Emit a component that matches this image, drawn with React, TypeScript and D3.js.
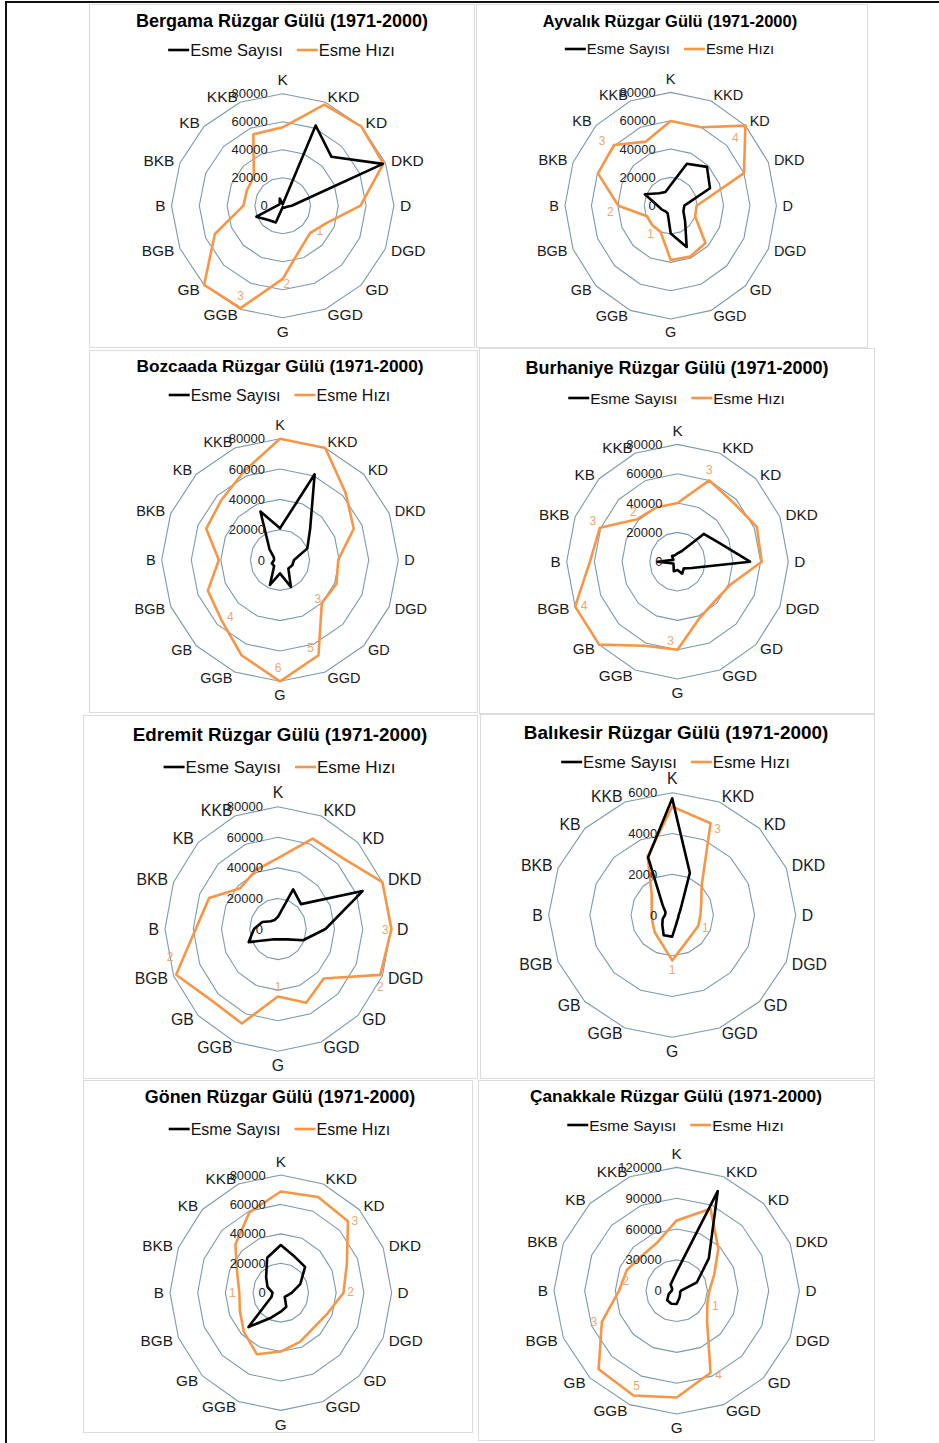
import React from "react";
import * as d3 from "d3";

// Wind directions, clockwise from north
const yonler = ["K", "KKD", "KD", "DKD", "D", "DGD", "GD", "GGD", "G", "GGB", "GB", "BGB", "B", "BKB", "KB", "KKB"];

// Radial tick values for the "Esme Sayısı" axis
const sayiTicks80 = [0, 20000, 40000, 60000, 80000];
const sayiTicks6 = [0, 2000, 4000, 6000];
const sayiTicks120 = [0, 30000, 60000, 90000, 120000];

const basliklar = [
  "Bergama Rüzgar Gülü (1971-2000)",
  "Ayvalık Rüzgar Gülü (1971-2000)",
  "Bozcaada Rüzgar Gülü (1971-2000)",
  "Burhaniye Rüzgar Gülü (1971-2000)",
  "Edremit Rüzgar Gülü (1971-2000)",
  "Balıkesir Rüzgar Gülü (1971-2000)",
  "Gönen Rüzgar Gülü (1971-2000)",
  "Çanakkale Rüzgar Gülü (1971-2000)",
];

const seriAdlari = ["Esme Sayısı", "Esme Hızı"];

// Esme sayısı (blow counts) and esme hızı (mean speed, m/s) per direction
const bergamaSayi = [1000, 62000, 49500, 78000, 6500, 2500, 2000, 1500, 1000, 13000, 14500, 20500, 4000, 2500, 3000, 5500];
const bergamaHiz = [2.1, 2.93, 3.0, 2.94, 2.1, 1.25, 1.04, 1.25, 1.96, 2.97, 3.0, 1.98, 1.06, 1.05, 1.1, 2.07];

const ayvalikSayi = [14600, 32000, 38800, 32200, 10300, 10400, 15400, 31600, 19600, 5900, 5600, 7200, 9800, 21200, 12400, 10400];
const ayvalikHiz = [2.99, 3.0, 4.0, 3.0, 0.98, 1.0, 1.86, 1.94, 1.92, 1.0, 0.98, 0.97, 1.98, 2.98, 3.03, 2.45];

const bozcaadaSayi = [20900, 61200, 28800, 20000, 9500, 9000, 8000, 19300, 8800, 17800, 5600, 6000, 4000, 4500, 10000, 34600];
const bozcaadaHiz = [6.0, 6.0, 4.7, 4.05, 2.95, 3.1, 3.0, 5.1, 6.0, 5.1, 4.2, 3.96, 3.1, 4.05, 4.2, 4.75];

const burhaniyeSayi = [5700, 7700, 26800, 32900, 52400, 11100, 6400, 8800, 5700, 7000, 4000, 3200, 14500, 3200, 5500, 4800];
const burhaniyeHiz = [2.0, 3.0, 2.85, 3.1, 3.04, 2.06, 1.9, 2.08, 3.0, 3.1, 4.0, 4.0, 3.16, 3.03, 2.05, 2.0];

const edremitSayi = [8000, 28000, 23000, 64800, 33600, 19200, 9600, 7300, 6800, 7300, 10200, 22500, 17000, 12000, 7200, 6400];
const edremitHiz = [1.45, 2.0, 2.04, 2.5, 2.51, 2.45, 1.43, 1.63, 1.38, 2.09, 2.07, 2.44, 1.82, 1.65, 1.18, 1.3];

const balikesirSayi = [5720, 2240, 635, 400, 315, 320, 355, 500, 1060, 1080, 680, 500, 350, 350, 640, 3060];
const balikesirHiz = [3.1, 2.84, 1.18, 0.89, 0.8, 0.8, 0.79, 0.91, 1.3, 0.84, 0.7, 0.6, 0.58, 0.63, 0.82, 1.82];

const gonenSayi = [32400, 26400, 24800, 15200, 8000, 5000, 4000, 10400, 12900, 18400, 33000, 7200, 6000, 10400, 15000, 25700];
const gonenHiz = [3.01, 3.08, 3.0, 2.26, 1.98, 1.6, 1.47, 1.58, 1.75, 1.98, 1.65, 1.4, 1.31, 1.49, 2.03, 2.59];

const canakkaleSayi = [18500, 104900, 44400, 21400, 4200, 3600, 4800, 7200, 13000, 13800, 13200, 8400, 4800, 4800, 8400, 10800];
const canakkaleHiz = [2.85, 3.6, 2.4, 1.65, 1.33, 1.35, 1.75, 3.6, 4.33, 4.6, 4.5, 3.3, 2.35, 2.2, 2.0, 2.1];

// Upper end of each station's speed axis
const hizMaks = [3, 4, 6, 4, 2.5, 3.5, 3.5, 5];

// Directions whose speed value carries a data label
const bergamaEtiket = [6, 8, 9];
const ayvalikEtiket = [2, 14, 12, 9];
const bozcaadaEtiket = [6, 7, 10, 8];
const burhaniyeEtiket = [1, 14, 13, 11, 8];
const edremitEtiket = [4, 5, 11, 8];
const balikesirEtiket = [1, 5, 8];
const gonenEtiket = [2, 4, 12];
const canakkaleEtiket = [5, 13, 11, 7, 9];

const istasyonlar = [
  { sayi: bergamaSayi, hiz: bergamaHiz, ticks: sayiTicks80, etiket: bergamaEtiket },
  { sayi: ayvalikSayi, hiz: ayvalikHiz, ticks: sayiTicks80, etiket: ayvalikEtiket },
  { sayi: bozcaadaSayi, hiz: bozcaadaHiz, ticks: sayiTicks80, etiket: bozcaadaEtiket },
  { sayi: burhaniyeSayi, hiz: burhaniyeHiz, ticks: sayiTicks80, etiket: burhaniyeEtiket },
  { sayi: edremitSayi, hiz: edremitHiz, ticks: sayiTicks80, etiket: edremitEtiket },
  { sayi: balikesirSayi, hiz: balikesirHiz, ticks: sayiTicks6, etiket: balikesirEtiket },
  { sayi: gonenSayi, hiz: gonenHiz, ticks: sayiTicks80, etiket: gonenEtiket },
  { sayi: canakkaleSayi, hiz: canakkaleHiz, ticks: sayiTicks120, etiket: canakkaleEtiket },
];

// Panel geometry and typography
const panels = [
  { box: [89, 4, 385, 343], cx: 282.7, cy: 205.7, rx: 111.2, ry: 112, tx: 282, ty: 21, tfs: 18, ly: 50, lfs: 16.5, cfs: 15.5,
    lab: [[10, -2], [4, 5], [0, -12]] },
  { box: [476, 4, 391, 343], cx: 670.7, cy: 205.7, rx: 105.7, ry: 113.3, tx: 670, ty: 21, tfs: 16.5, ly: 49, lfs: 14.8, cfs: 14.5,
    lab: [[-10, 12], [-12, -4], [-8, 6], [-10, 2]] },
  { box: [89, 350, 388, 362], cx: 280, cy: 560, rx: 118.3, ry: 121.3, tx: 280, ty: 366, tfs: 17.3, ly: 395, lfs: 16, cfs: 14.5,
    lab: [[-4, -4], [-8, -7], [9, -3], [-2, -13]] },
  { box: [479, 348, 395, 365], cx: 677.5, cy: 561.7, rx: 110.8, ry: 117.3, tx: 677, ty: 368, tfs: 18, ly: 398, lfs: 15.5, cfs: 15.3,
    lab: [[0, -10], [-4, -7], [-7, -7], [9, -1], [-7, -9]] },
  { box: [83, 715, 394, 363], cx: 278, cy: 929, rx: 113, ry: 122.3, tx: 280, ty: 734, tfs: 18.8, ly: 767, lfs: 17, cfs: 15.8,
    lab: [[-6, 1], [0, 12], [-6, -18], [0, -10]] },
  { box: [480, 714, 394, 364], cx: 672.2, cy: 915, rx: 123.5, ry: 122.3, tx: 676, ty: 732, tfs: 18.9, ly: 762, lfs: 16.7, cfs: 15.8,
    lab: [[7, 6], [7, 2], [0, 10]] },
  { box: [83, 1080, 389, 352], cx: 280.8, cy: 1292.7, rx: 110.8, ry: 117.7, tx: 280, ty: 1097, tfs: 17.9, ly: 1129, lfs: 16, cfs: 15.3,
    lab: [[7, 0], [7, -1], [-7, 0]] },
  { box: [478, 1080, 396, 360], cx: 676.7, cy: 1290.7, rx: 122.7, ry: 123.3, tx: 676, ty: 1096, tfs: 17.3, ly: 1125, lfs: 15.5, cfs: 15.3,
    lab: [[8, 3], [-1, 11], [-8, 0], [8, 2], [3, -10]] },
];

const FONT = "'Liberation Sans', Arial, sans-serif";
const GRID = "#7d9aaa";
const SAYI_RENK = "#000000";
const HIZ_RENK = "#f79646";
const ETIKET_RENK = "#eda86f";

function RadarPanel({ index }: { index: number }) {
  const p = panels[index];
  const s = istasyonlar[index];
  const n = yonler.length;
  const angle = d3.scaleLinear().domain([0, n]).range([0, 2 * Math.PI]);
  const maxSayi = s.ticks[s.ticks.length - 1];
  const rSayi = d3.scaleLinear().domain([0, maxSayi]).range([0, 1]);
  const rHiz = d3.scaleLinear().domain([0, hizMaks[index]]).range([0, 1]);
  const fmtHiz = d3.format(".0f");

  const pt = (k: number, f: number): [number, number] => [
    p.cx + p.rx * f * Math.sin(angle(k)),
    p.cy - p.ry * f * Math.cos(angle(k)),
  ];
  const closed = d3.line().curve(d3.curveLinearClosed);

  const rings = s.ticks.slice(1).map((t) => closed(d3.range(n).map((k) => pt(k, rSayi(t)))));
  const sayiPath = closed(s.sayi.map((v, k) => pt(k, rSayi(v))));
  const hizPath = closed(s.hiz.map((v, k) => pt(k, rHiz(v))));

  const pad = 6;
  const catLabels = yonler.map((name, k) => {
    const a = angle(k);
    const sn = Math.sin(a);
    const cs = Math.cos(a);
    if (Math.abs(sn) < 0.01) {
      const y = p.cy - Math.sign(cs) * (p.ry + pad + p.cfs * 0.5);
      return { name, x: p.cx, y, anchor: "middle" };
    }
    return {
      name,
      x: p.cx + (p.rx + pad) * sn,
      y: p.cy - (p.ry + pad) * cs,
      anchor: sn > 0 ? "start" : "end",
    };
  });

  // legend laid out centred under the title
  const L = 21;
  const wS = 5.613 * p.lfs;
  const wH = 4.612 * p.lfs;
  const total = L + 2 + wS + 13 + L + 2 + wH;
  const lx0 = p.tx - total / 2;
  const lx1 = lx0 + L + 2 + wS + 13;

  const [bx, by, bw, bh] = p.box;

  return (
    <g>
      <rect x={bx + 0.5} y={by + 0.5} width={bw} height={bh} fill="#ffffff" stroke="#dcdcdc" strokeWidth={1} />
      <text x={p.tx} y={p.ty} textAnchor="middle" dominantBaseline="central" fontFamily={FONT}
        fontWeight="bold" fontSize={p.tfs} fill="#000">{basliklar[index]}</text>

      <line x1={lx0} x2={lx0 + L} y1={p.ly} y2={p.ly} stroke={SAYI_RENK} strokeWidth={2.6} />
      <text x={lx0 + L + 1} y={p.ly} dominantBaseline="central" fontFamily={FONT} fontSize={p.lfs} fill="#111">{seriAdlari[0]}</text>
      <line x1={lx1} x2={lx1 + L} y1={p.ly} y2={p.ly} stroke={HIZ_RENK} strokeWidth={2.6} />
      <text x={lx1 + L + 1} y={p.ly} dominantBaseline="central" fontFamily={FONT} fontSize={p.lfs} fill="#111">{seriAdlari[1]}</text>

      {rings.map((d, k) => (
        <path key={k} d={d || ""} fill="none" stroke={GRID} strokeWidth={1.1} />
      ))}

      {catLabels.map((c) => (
        <text key={c.name} x={c.x} y={c.y} textAnchor={c.anchor} dominantBaseline="central"
          fontFamily={FONT} fontSize={p.cfs} fill="#1a1a1a">{c.name}</text>
      ))}

      <path d={hizPath || ""} fill="none" stroke={HIZ_RENK} strokeWidth={2.6} strokeLinejoin="round" />
      <path d={sayiPath || ""} fill="none" stroke={SAYI_RENK} strokeWidth={2.6} strokeLinejoin="round" />

      {s.ticks.map((t) => (
        <text key={t} x={p.cx - 15} y={p.cy - p.ry * rSayi(t)} textAnchor="end" dominantBaseline="central"
          fontFamily={FONT} fontSize={13} fill="#222">{t}</text>
      ))}

      {s.etiket.map((k, j) => {
        const [x, y] = pt(k, rHiz(s.hiz[k]));
        const [dx, dy] = p.lab[j];
        return (
          <text key={k} x={x + dx} y={y + dy} textAnchor="middle" dominantBaseline="central"
            fontFamily={FONT} fontSize={12} fill={ETIKET_RENK}>{fmtHiz(s.hiz[k])}</text>
        );
      })}
    </g>
  );
}

export default function App() {
  return (
    <svg width={939} height={1443} viewBox="0 0 939 1443"
      style={{ position: "absolute", left: 0, top: 0, background: "#ffffff" }}>
      <rect x={0} y={0} width={939} height={1443} fill="#ffffff" />
      <path d="M6,1443 V2 H939" fill="none" stroke="#111" strokeWidth={2} />
      {panels.map((_, i) => (
        <RadarPanel key={i} index={i} />
      ))}
    </svg>
  );
}
